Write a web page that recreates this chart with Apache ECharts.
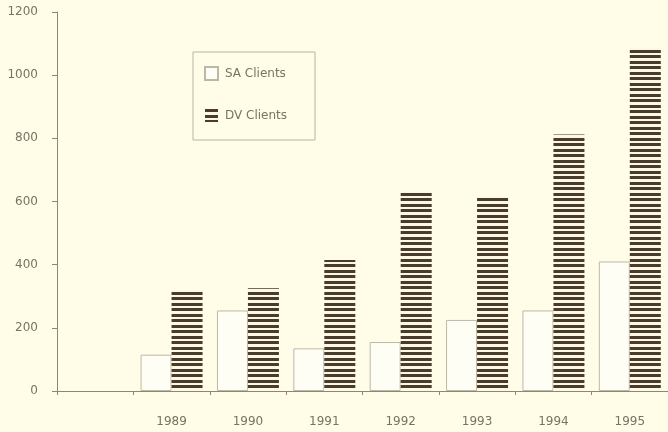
<!DOCTYPE html>
<html>
<head>
<meta charset="utf-8">
<style>
  html, body { margin: 0; padding: 0; background: #fffde8; }
  #chart { width: 668px; height: 432px; }
</style>
<script src="https://cdn.jsdelivr.net/npm/echarts@6/dist/echarts.min.js"></script>
</head>
<body>
<div id="chart"></div>
<script>
// years on the x axis (first slot is empty in the original)
const years = ['', '1989', '1990', '1991', '1992', '1993', '1994', '1995'];
const saClients = [null, 115, 255, 135, 155, 225, 255, 410];
const dvClients = [null, 320, 325, 415, 630, 615, 812, 1085];
const yTicks = [0, 200, 400, 600, 800, 1000, 1200];

// horizontal stripe fill for the DV bars
const makeStripes = () => {
  const c = document.createElement('canvas');
  c.width = 11;
  c.height = 11;
  const ctx = c.getContext('2d');
  ctx.fillStyle = '#fbf8e4';
  ctx.fillRect(0, 0, 11, 11);
  ctx.fillStyle = '#4a3b2c';
  ctx.fillRect(0, 0, 11, 3);
  ctx.fillRect(0, 6, 11, 3);
  return c;
};

const axisColor = '#8d8576';
const textColor = '#7a7264';

const chart = echarts.init(document.getElementById('chart'));
chart.setOption({
  backgroundColor: '#fffde8',
  animation: false,
  textStyle: { fontFamily: 'DejaVu Sans' },
  legend: {
    orient: 'vertical',
    left: 193,
    top: 52,
    padding: [14, 28, 18, 11],
    itemGap: 28,
    itemWidth: 13,
    itemHeight: 13,
    borderColor: '#b9b3a4',
    borderWidth: 1,
    textStyle: { color: textColor, fontSize: 12, padding: [0, 0, 0, 2] },
    data: [
      { name: 'SA Clients', icon: 'rect' },
      { name: 'DV Clients', icon: 'rect' }
    ]
  },
  grid: { left: 57, right: -6, top: 12, bottom: 41 },
  xAxis: {
    type: 'category',
    data: years,
    axisLine: { lineStyle: { color: axisColor, width: 1 } },
    axisTick: { show: true, length: 4, lineStyle: { color: axisColor } },
    axisLabel: { color: textColor, fontSize: 12, margin: 25 }
  },
  yAxis: {
    type: 'value',
    min: yTicks[0],
    max: yTicks[yTicks.length - 1],
    interval: 200,
    splitLine: { show: false },
    axisLine: { show: true, lineStyle: { color: axisColor, width: 1 } },
    axisTick: { show: true, length: 5, lineStyle: { color: axisColor } },
    axisLabel: { color: textColor, fontSize: 12, margin: 19, formatter: (v) => String(v) }
  },
  series: [
    {
      name: 'SA Clients',
      type: 'bar',
      data: saClients,
      barWidth: 31,
      barGap: '0%',
      itemStyle: { color: '#fffef4', borderColor: '#bdb7a6', borderWidth: 1 }
    },
    {
      name: 'DV Clients',
      type: 'bar',
      data: dvClients,
      barWidth: 31,
      itemStyle: { color: { image: makeStripes(), repeat: 'repeat' } }
    }
  ]
});
</script>
</body>
</html>
